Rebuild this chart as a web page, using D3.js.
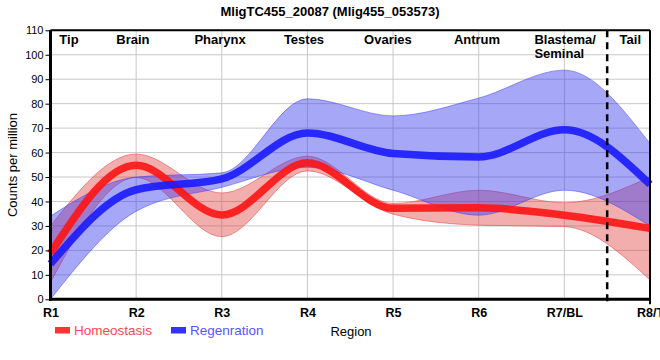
<!DOCTYPE html>
<html>
<head>
<meta charset="utf-8">
<script src="https://cdn.jsdelivr.net/npm/d3@7"></script>
<style>
  html, body { margin: 0; padding: 0; background: #fff; }
  svg { display: block; font-family: "Liberation Sans", Arial, sans-serif; }
</style>
</head>
<body>
<svg id="chart" width="660" height="360"></svg>
<script>
// ---- data ----
const title = "MligTC455_20087 (Mlig455_053573)";
const categories = ["R1", "R2", "R3", "R4", "R5", "R6", "R7/BL", "R8/T"];
const yTicks = [0, 10, 20, 30, 40, 50, 60, 70, 80, 90, 100, 110];
const regionLabels = ["Tip", "Brain", "Pharynx", "Testes", "Ovaries", "Antrum", "Blastema/|Seminal", "Tail"];
const seriesNames = ["Homeostasis", "Regenration"];

const homeostasis      = [18.8, 54.8, 34.5, 55.8, 37.2, 37.4, 34.4, 29.0];
const homeostasisUpper = [30.0, 59.4, 43.5, 58.5, 39.2, 44.6, 39.5, 50.0];
const homeostasisLower = [ 7.0, 49.8, 25.6, 52.5, 34.8, 30.3, 29.7,  7.9];

const regeneration      = [14.5, 44.8, 49.2, 68.0, 59.6, 58.2, 69.3, 47.0];
const regenerationUpper = [34.0, 50.0, 51.7, 82.0, 75.0, 82.3, 93.7, 63.7];
const regenerationLower = [ 0.0, 36.0, 45.8, 54.0, 44.6, 34.4, 44.6, 30.0];

// ---- layout ----
const svg = d3.select("#chart");
const L = 50.5, R = 650, T = 30.3, B = 299.3;
const x = d3.scaleLinear().domain([0, categories.length - 1]).range([L, R]);
const y = d3.scaleLinear().domain([0, 110]).range([B, T]);
const regionLabelPos = [0.216, 0.962, 1.98, 2.96, 3.94, 4.98, 5.65, 6.77];
const regionAnchor = ["middle", "middle", "middle", "middle", "middle", "middle", "start", "middle"];

const idx = d3.range(categories.length);

// grid
const g = svg.append("g");
g.selectAll("line.hg").data(yTicks).join("line")
  .attr("x1", L).attr("x2", R)
  .attr("y1", d => y(d)).attr("y2", d => y(d))
  .attr("stroke", "#c8c8c8").attr("stroke-width", 1);
g.selectAll("line.vg").data(idx).join("line")
  .attr("x1", d => x(d)).attr("x2", d => x(d))
  .attr("y1", T).attr("y2", B)
  .attr("stroke", "#c8c8c8").attr("stroke-width", 1);

// bands
const area = (lo, hi) => d3.area()
  .x((d, i) => x(i))
  .y0((d, i) => y(lo[i]))
  .y1((d, i) => y(hi[i]))
  .curve(d3.curveMonotoneX)(idx);

svg.append("path").attr("d", area(homeostasisLower, homeostasisUpper))
  .attr("fill", "rgba(225,60,60,0.42)").attr("stroke", "rgba(225,60,60,0.5)").attr("stroke-width", 1);
svg.append("path").attr("d", area(regenerationLower, regenerationUpper))
  .attr("fill", "rgba(60,60,240,0.45)").attr("stroke", "rgba(60,60,240,0.5)").attr("stroke-width", 1);

// lines
const line = vals => d3.line()
  .x((d, i) => x(i))
  .y((d, i) => y(vals[i]))
  .curve(d3.curveMonotoneX)(idx);

svg.append("path").attr("d", line(homeostasis))
  .attr("fill", "none").attr("stroke", "rgb(255,20,20)").attr("stroke-opacity", 0.9).attr("stroke-width", 7.5);
svg.append("path").attr("d", line(regeneration))
  .attr("fill", "none").attr("stroke", "rgb(25,25,255)").attr("stroke-opacity", 0.9).attr("stroke-width", 7.5);

// dashed separator
const xd = (x(6) + x(7)) / 2;
svg.append("line").attr("x1", xd).attr("x2", xd).attr("y1", T).attr("y2", B + 6)
  .attr("stroke", "#000").attr("stroke-width", 2.5).attr("stroke-dasharray", "7,5");

// frame
svg.append("line").attr("x1", L).attr("x2", R).attr("y1", T).attr("y2", T).attr("stroke", "#000").attr("stroke-width", 2);
svg.append("line").attr("x1", R).attr("x2", R).attr("y1", T).attr("y2", B + 5).attr("stroke", "#000").attr("stroke-width", 2);

// axes
const yAxis = d3.axisLeft(y).tickValues(yTicks).tickSize(5).tickPadding(2);
const ya = svg.append("g").attr("transform", `translate(${L},0)`).call(yAxis);
ya.select(".domain").attr("stroke-width", 3).attr("d", `M0,${T}V${B + 1.5}`);
ya.selectAll("text").attr("font-size", 11).attr("fill", "#000").attr("font-family", "Liberation Sans, Arial, sans-serif");

const xAxis = d3.axisBottom(x).tickValues(idx).tickFormat(i => categories[i]).tickSize(0).tickPadding(9);
const xa = svg.append("g").attr("transform", `translate(0,${B})`).call(xAxis);
xa.select(".domain").attr("stroke-width", 3).attr("d", `M${L - 1.5},0H${R + 1}`);
xa.selectAll("text").attr("font-size", 12.5).attr("font-weight", "bold").attr("fill", "#000")
  .attr("font-family", "Liberation Sans, Arial, sans-serif");

// region labels
regionLabels.forEach((lab, i) => {
  const parts = lab.split("|");
  const t = svg.append("text").attr("x", x(regionLabelPos[i])).attr("y", 44)
    .attr("text-anchor", regionAnchor[i]).attr("font-size", 13).attr("font-weight", "bold").attr("fill", "#000");
  parts.forEach((p, k) => t.append("tspan").attr("x", x(regionLabelPos[i])).attr("dy", k === 0 ? 0 : 14.3).text(p));
});

// title
svg.append("text").attr("x", 330).attr("y", 16).attr("text-anchor", "middle")
  .attr("font-size", 13).attr("font-weight", "bold").text(title);

// y title
svg.append("text").attr("transform", "translate(17,165) rotate(-90)").attr("text-anchor", "middle")
  .attr("font-size", 13).text("Counts per million");

// x title
svg.append("text").attr("x", 351).attr("y", 336).attr("text-anchor", "middle")
  .attr("font-size", 13).text("Region");

// legend
const legendColors = ["#ff3333", "#3333ff"];
const legendText = ["#ff4455", "#5555ff"];
const legendX = [55, 171];
seriesNames.forEach((n, i) => {
  svg.append("rect").attr("x", legendX[i]).attr("y", 327).attr("width", 15).attr("height", 6.5).attr("fill", legendColors[i]);
  svg.append("text").attr("x", legendX[i] + 19).attr("y", 335).attr("font-size", 13.5)
    .attr("fill", legendText[i]).text(n);
});
</script>
</body>
</html>
